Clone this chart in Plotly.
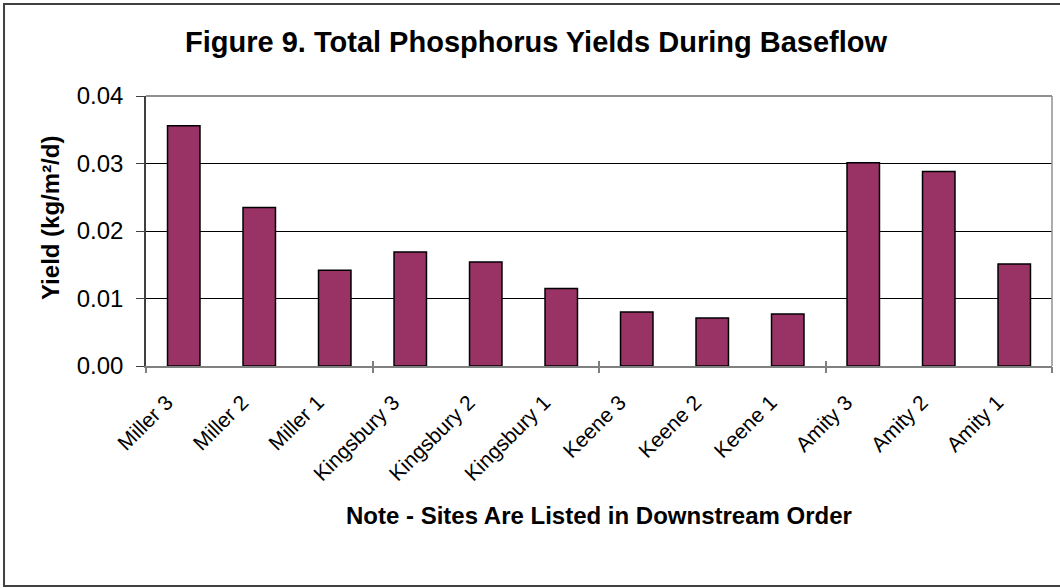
import plotly.graph_objects as go

# Figure 9 data
sites = ['Miller 3', 'Miller 2', 'Miller 1', 'Kingsbury 3', 'Kingsbury 2', 'Kingsbury 1',
         'Keene 3', 'Keene 2', 'Keene 1', 'Amity 3', 'Amity 2', 'Amity 1']
yields = [0.0356, 0.0235, 0.0142, 0.0169, 0.0154, 0.0115,
          0.0080, 0.0071, 0.0077, 0.0301, 0.0288, 0.0151]
y_ticks = [0.00, 0.01, 0.02, 0.03, 0.04]
group_edges = [-0.5, 2.5, 5.5, 8.5, 11.5]

FONT = 'Arial, Liberation Sans, sans-serif'

fig = go.Figure()
fig.add_trace(go.Bar(
    x=sites, y=yields,
    marker=dict(color='#993366', line=dict(color='#000000', width=1.5)),
    showlegend=False, hoverinfo='x+y'
))
# invisible traces on linear overlay axes, only there to carry the group tick marks
# (one axis draws the part below the baseline, the other the part above it)
for ax in ['x2', 'x3']:
    fig.add_trace(go.Scatter(x=group_edges, y=[0] * len(group_edges), xaxis=ax,
                             mode='markers', marker=dict(opacity=0), showlegend=False,
                             hoverinfo='skip'))

edge_ticks = dict(overlaying='x', range=[-0.5, 11.5], tickvals=group_edges,
                  showticklabels=False, tickwidth=1.5, tickcolor='#808080',
                  showgrid=False, showline=False, zeroline=False, anchor='y')

fig.update_layout(
    width=1060, height=588,
    margin=dict(l=146, r=8, t=96, b=222),
    paper_bgcolor='white', plot_bgcolor='white',
    font=dict(family=FONT, color='black'),
    bargap=0.57,
    title=dict(text='<b>Figure 9. Total Phosphorus Yields During Baseflow</b>',
               x=0.5057, xref='container', xanchor='center',
               y=0.9286, yref='container', yanchor='middle',
               font=dict(size=29, family=FONT)),
    xaxis=dict(type='category', tickangle=-45, tickfont=dict(size=21),
               ticks='outside', ticklen=14, tickcolor='rgba(0,0,0,0)',
               ticklabelshift=-17,
               showline=True, linecolor='#808080', linewidth=1.5,
               showgrid=False, range=[-0.5, 11.5]),
    xaxis2=dict(edge_ticks, ticks='outside', ticklen=6),
    xaxis3=dict(edge_ticks, ticks='inside', ticklen=5),
    yaxis=dict(range=[0, 0.04], tickvals=y_ticks, tickformat='.2f',
               tickfont=dict(size=24), ticks='outside', ticklen=8, tickcolor='#404040',
               showline=True, linecolor='#404040', linewidth=1.5,
               showgrid=True, gridcolor='#000000', gridwidth=1, zeroline=False,
               ticklabelstandoff=8),
    annotations=[
        dict(text='<b>Yield (kg/m²/d)</b>', x=-0.106, y=0.548, xref='paper', yref='paper',
             textangle=-90, showarrow=False, font=dict(size=24, family=FONT),
             xanchor='center', yanchor='middle'),
        dict(text='<b>Note - Sites Are Listed in Downstream Order</b>', x=0.5, y=-0.552,
             xref='paper', yref='paper', showarrow=False, font=dict(size=24, family=FONT),
             xanchor='center', yanchor='middle'),
    ],
    shapes=[
        # plot area frame (top / right)
        dict(type='line', xref='paper', yref='paper', x0=0, x1=1, y0=1, y1=1,
             line=dict(color='#909090', width=2)),
        dict(type='line', xref='paper', yref='paper', x0=1, x1=1, y0=0, y1=1,
             line=dict(color='#909090', width=1.5)),
        # chart border
        dict(type='rect', xref='paper', yref='paper', x0=-0.1567, x1=1.03,
             y0=-0.8148, y1=1.3407, line=dict(color='#404040', width=2), layer='below'),
    ],
)

# drop the default page margin so the 1060x588 figure sits at the window origin
fig.write_html('out.html', config={'displayModeBar': False},
               post_script="document.body.style.margin='0';")
